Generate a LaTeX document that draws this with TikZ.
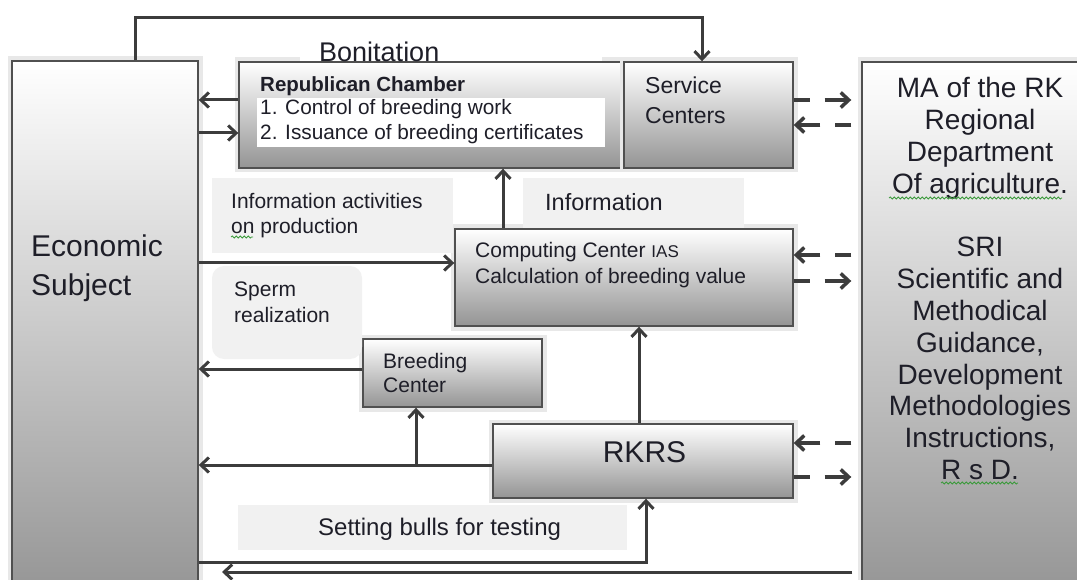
\documentclass[tikz,border=0pt]{standalone}
\usepackage{fontspec}
\setmainfont{Liberation Sans}
\usetikzlibrary{arrows.meta,decorations.pathmorphing}
\definecolor{ln}{HTML}{3C3C3C}
\definecolor{bx}{HTML}{505050}
\definecolor{lbl}{HTML}{F1F1F1}
\definecolor{txt}{HTML}{1E1E28}
\definecolor{sq}{HTML}{3A9A3A}
\begin{document}
\begin{tikzpicture}[x=1pt,y=-1pt,
  box/.style={draw=bx,line width=1.4pt,inner sep=0pt,rectangle,
    preaction={draw=black!9,line width=9pt}},
  tallbox/.style={box,top color=white,bottom color=black!42},
  shortbox/.style={box,top color=white,middle color=black!5,bottom color=black!42},
  txtn/.style={inner sep=0pt,text=txt},
  conn/.style={draw=ln,line width=3pt,-{Straight Barb[length=8pt,width=15pt]}},
  dconn/.style={conn,line width=3.5pt,dash pattern=on 16pt off 15pt on 40pt off 10pt},
  squig/.style={draw=sq,line width=0.8pt,decorate,decoration={snake,amplitude=1pt,segment length=4pt}}
]
\useasboundingbox (0,0) rectangle (1077,580);
\clip (0,0) rectangle (1077,580);
\fill[white] (0,0) rectangle (1077,580);

% boxes
\node[tallbox,minimum width=186pt,minimum height=539pt] (econ) at (105,330.5) {};
\node[tallbox,minimum width=228pt,minimum height=538pt] (ma) at (976,331) {};
\node[shortbox,minimum width=385pt,minimum height=106pt] (rc) at (431.5,115) {};
\node[shortbox,minimum width=169pt,minimum height=106pt] (sc) at (708.5,115) {};
\node[shortbox,minimum width=338pt,minimum height=97pt] (cc) at (624,277.5) {};
\node[shortbox,minimum width=179pt,minimum height=68pt] (bc) at (452.5,373) {};
\node[shortbox,minimum width=300pt,minimum height=74pt] (rkrs) at (643,461) {};

% label backgrounds
\fill[white] (300,24) rectangle (602,61);
\fill[white] (257,98) rectangle (605,147);
\fill[lbl] (212,178) rectangle (453,253);
\fill[lbl] (523,178) rectangle (744,228);
\fill[lbl,rounded corners=12pt] (212,266) rectangle (362,359);
\fill[lbl] (238,505) rectangle (627,550);

% texts
\node[txtn,anchor=north west,align=left,font=\fontsize{30}{39}\selectfont] (econt) at (31,234.5) {Economic\\Subject};
\node[txtn,anchor=north,align=center,font=\fontsize{28}{31.8}\selectfont] (mat) at (980,77.5)
  {MA of the RK\\Regional\\Department\\Of agriculture.\\[31.8pt]SRI\\Scientific and\\Methodical\\Guidance,\\Development\\Methodologies\\Instructions,\\R s D.};
\node[txtn,anchor=base west,font=\fontsize{27}{32}\selectfont] (bont) at (319,62) {Bonitation};
\node[txtn,anchor=base west,font=\bfseries\fontsize{20.5}{25}\selectfont] (rct) at (260,92) {Republican Chamber};
\node[txtn,anchor=base west,font=\fontsize{20.8}{25}\selectfont] (it1) at (260,115) {1. Control of breeding work};
\node[txtn,anchor=base west,font=\fontsize{20.8}{25}\selectfont] (it2) at (260,140) {2. Issuance of breeding certificates};
\node[txtn,anchor=north west,align=left,font=\fontsize{23}{30}\selectfont] (sct) at (645,76.4) {Service\\Centers};
\node[txtn,anchor=north west,align=left,font=\fontsize{21}{25}\selectfont] (iat) at (231,192.9) {Information activities\\on production};
\node[txtn,anchor=base west,font=\fontsize{23.5}{28}\selectfont] (inft) at (545,211) {Information};
\node[txtn,anchor=north west,align=left,font=\fontsize{21}{26}\selectfont] (cct) at (475,241.9) {Computing Center {\fontsize{17}{26}\selectfont IAS}\\Calculation of breeding value};
\node[txtn,anchor=north west,align=left,font=\fontsize{21}{26}\selectfont] (spt) at (234,281.9) {Sperm\\realization};
\node[txtn,anchor=north west,align=left,font=\fontsize{21}{24}\selectfont] (bct) at (383,352.9) {Breeding\\Center};
\node[txtn,anchor=base,font=\fontsize{30}{36}\selectfont] (rkt) at (644.5,462) {RKRS};
\node[txtn,anchor=base west,font=\fontsize{24}{28}\selectfont] (sbt) at (318,535) {Setting bulls for testing};

% spell-check squiggles
\draw[squig] (889,198) -- (1062,198);
\draw[squig] (941,483) -- (1018,483);
\draw[squig] (231,237) -- (253,237);

% helper coordinates
\coordinate (t1) at (135,18);
\coordinate (t2) at (702,18);
\foreach \h in {100,125,133,255,263,281,369,443,465,477,562,572} {\coordinate (h\h) at (0,\h);}
\coordinate (v503) at (503,0);
\coordinate (v416) at (416,0);
\coordinate (v639) at (639,0);
\coordinate (v646) at (646,0);
\coordinate (e572) at (222,572);

% connectors
\draw[conn] (econ.north -| t1) -- (t1) -- (t2) -- (sc.north -| t2);
\draw[conn] (rc.west |- h100) -- (econ.east |- h100);
\draw[conn] (econ.east |- h133) -- (rc.west |- h133);
\draw[dconn,shorten >=10pt] (sc.east |- h100) -- (ma.west |- h100);
\draw[dconn,shorten <=10pt] (ma.west |- h125) -- (sc.east |- h125);
\draw[conn] (cc.north -| v503) -- (rc.south -| v503);
\draw[conn] (econ.east |- h263) -- (cc.west |- h263);
\draw[dconn,shorten <=10pt] (ma.west |- h255) -- (cc.east |- h255);
\draw[dconn,shorten >=10pt] (cc.east |- h281) -- (ma.west |- h281);
\draw[conn] (bc.west |- h369) -- (econ.east |- h369);
\draw[conn] (rkrs.west |- h465) -- (econ.east |- h465);
\draw[conn] (v416 |- h465) -- (bc.south -| v416);
\draw[conn] (rkrs.north -| v639) -- (cc.south -| v639);
\draw[dconn,shorten <=10pt] (ma.west |- h443) -- (rkrs.east |- h443);
\draw[dconn,shorten >=10pt] (rkrs.east |- h477) -- (ma.west |- h477);
\draw[conn] (econ.east |- h562) -- (v646 |- h562) -- (rkrs.south -| v646);
\draw[conn,shorten <=9pt] (ma.west |- h572) -- (e572);
\end{tikzpicture}
\end{document}
